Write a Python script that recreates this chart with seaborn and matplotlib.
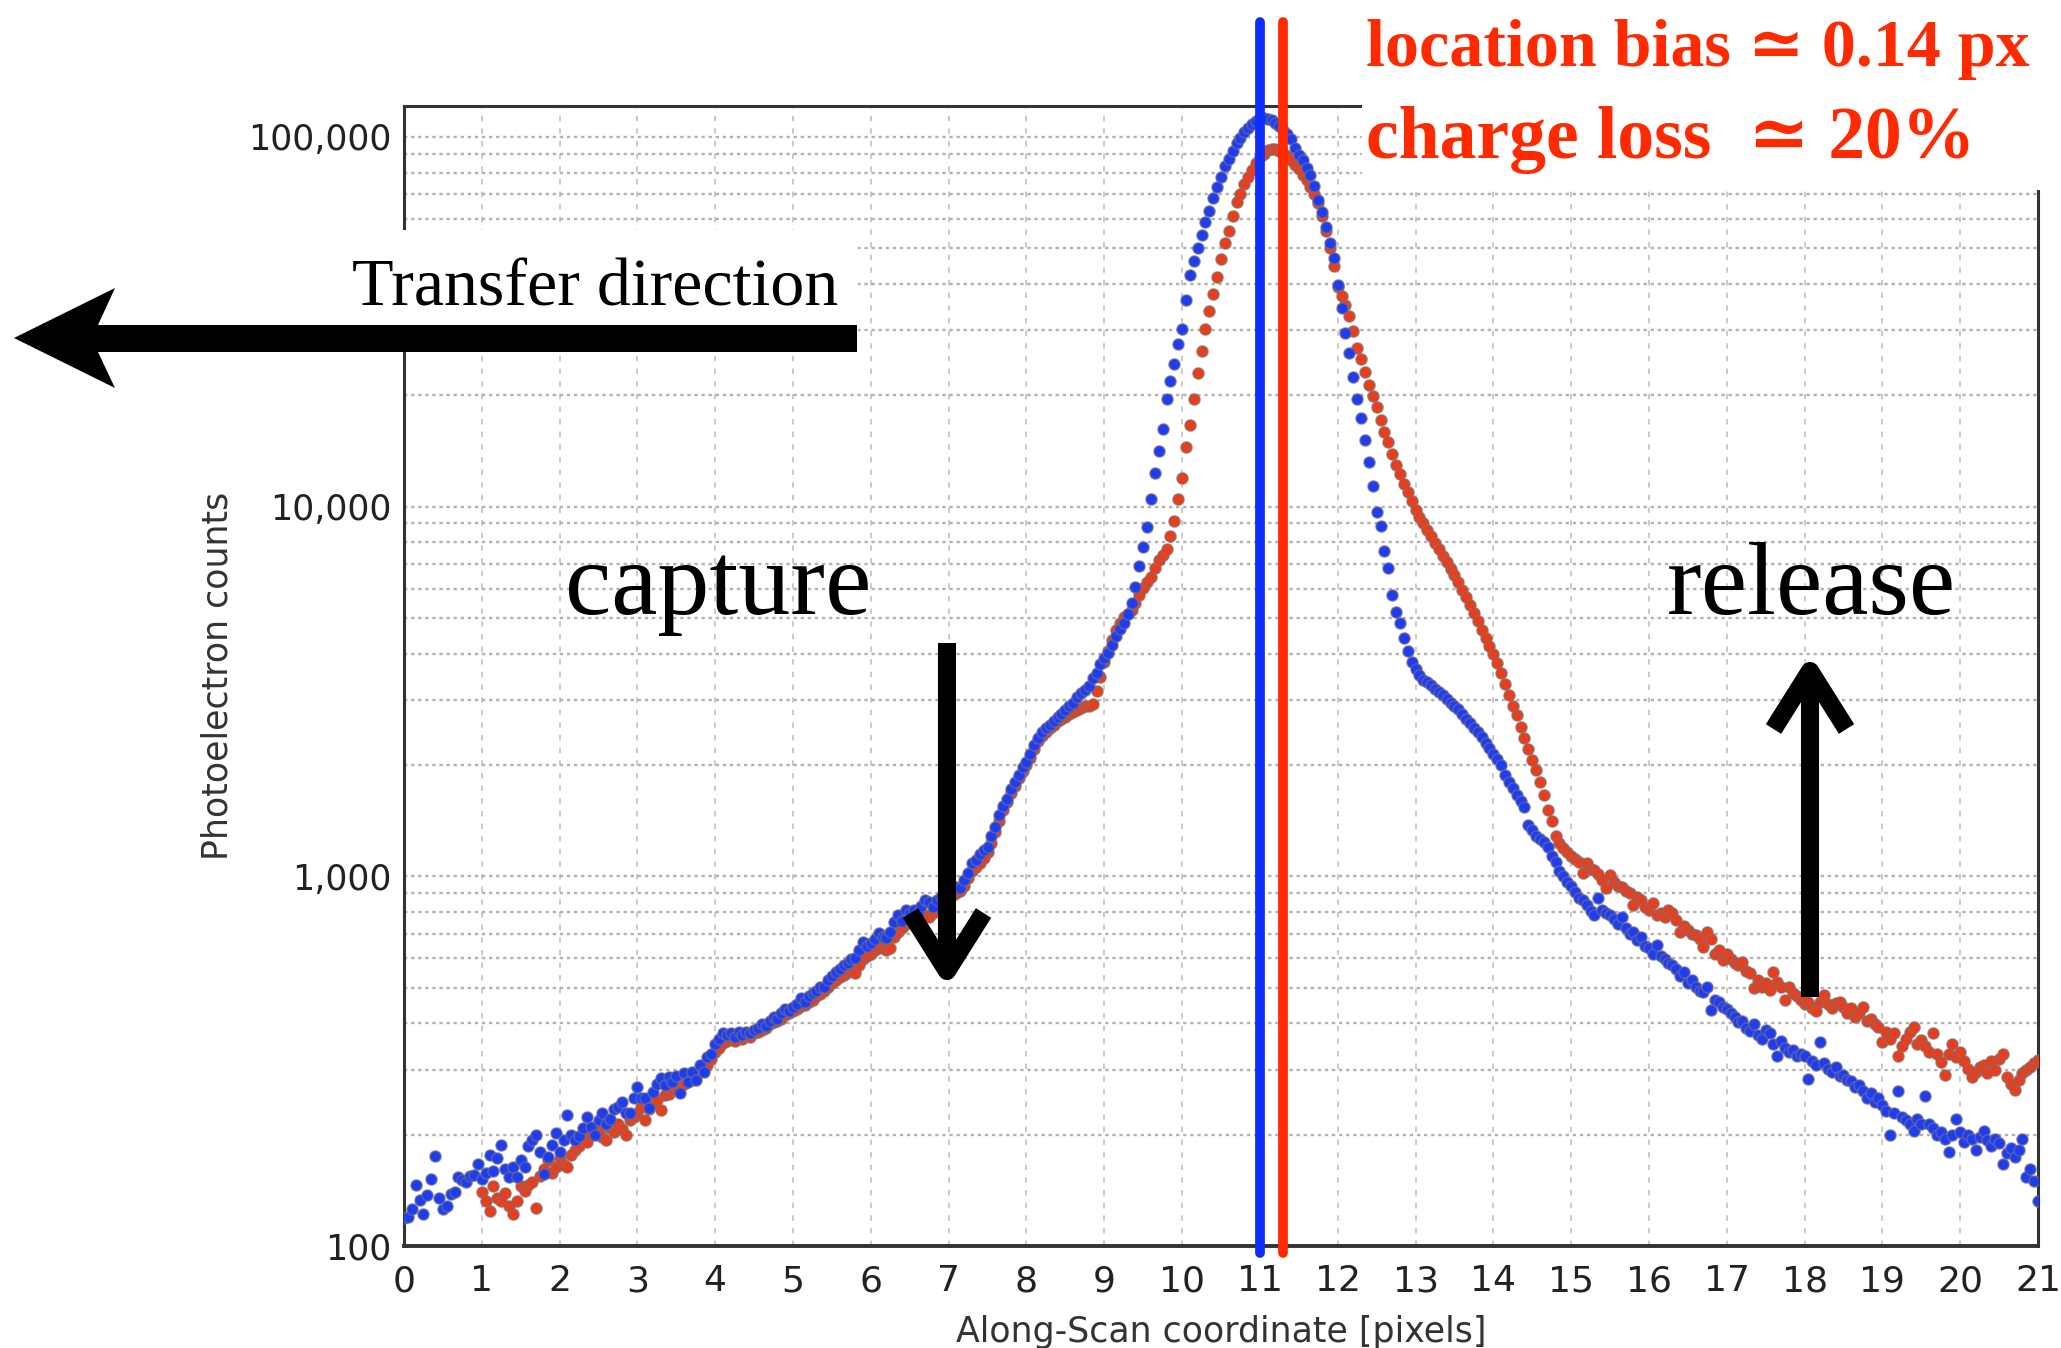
import numpy as np
import pandas as pd
import matplotlib
matplotlib.use("Agg")
import matplotlib.pyplot as plt
import seaborn as sns
from matplotlib.ticker import FixedLocator, FixedFormatter, LogLocator, NullFormatter
from matplotlib.patches import Rectangle, Polygon

# ---------------- data ----------------
STEP = 0.05          # sampling step along scan [pixels]
BLUE_X0 = 0.0        # first blue sample
RED_X0 = 1.0         # first red sample

blue_counts = [
    119, 120, 126, 146, 133, 122, 137, 152, 175, 135, 126, 128, 138, 140, 154, 151, 149, 155, 156, 167,
    152, 158, 176, 160, 173, 188, 162, 154, 164, 154, 171, 164, 186, 194, 200, 180, 157, 174, 188, 202,
    180, 193, 226, 200, 194, 198, 209, 224, 210, 200, 219, 229, 214, 221, 234, 238, 245, 229, 229, 251,
    270, 251, 251, 236, 261, 275, 284, 272, 287, 278, 288, 259, 293, 278, 295, 282, 309, 295, 324, 331,
    351, 363, 376, 372, 376, 367, 378, 372, 380, 376, 385, 389, 398, 394, 407, 417, 412, 427, 437, 432,
    444, 452, 468, 457, 473, 482, 490, 501, 502, 525, 537, 550, 562, 575, 582, 596, 600, 631, 665, 646,
    661, 676, 701, 684, 679, 708, 750, 785, 759, 809, 794, 813, 794, 832, 863, 851, 828, 861, 881, 902,
    912, 923, 933, 929, 977, 1023, 1084, 1109, 1148, 1175, 1202, 1288, 1361, 1462, 1549, 1622, 1718, 1799, 1884, 1972,
    2042, 2138, 2265, 2371, 2455, 2512, 2570, 2630, 2692, 2754, 2818, 2884, 2951, 3055, 3126, 3199, 3273, 3428, 3548, 3758,
    3890, 4027, 4217, 4467, 4677, 4842, 5129, 5495, 6067, 6918, 7762, 8810, 10470, 12300, 14130, 16220, 19500, 21880, 24270, 27540,
    30200, 36310, 42270, 46240, 50120, 54330, 58880, 63100, 68390, 73110, 77980, 83180, 87300, 91620, 96160, 99540, 103000, 105900, 108400, 110700,
    112200, 112500, 111900, 110900, 108900, 107200, 104200, 102100, 98400, 93300, 89500, 86500, 82400, 78900, 73500, 67300, 62700, 56900, 51500, 46990,
    39810, 34510, 29510, 26000, 22390, 19500, 17380, 15140, 13180, 11350, 9660, 8870, 7590, 6820, 5750, 5190, 4840, 4420, 4060, 3800,
    3630, 3510, 3400, 3350, 3300, 3220, 3150, 3090, 3020, 2950, 2884, 2830, 2754, 2670, 2590, 2512, 2455, 2380, 2290, 2230,
    2138, 2070, 1995, 1884, 1795, 1738, 1660, 1603, 1535, 1380, 1334, 1288, 1259, 1236, 1202, 1135, 1096, 1035, 1000, 966,
    944, 904, 871, 861, 838, 804, 785, 875, 813, 794, 785, 767, 745, 776, 724, 700, 708, 671, 684, 646,
    638, 617, 653, 607, 596, 582, 575, 561, 537, 550, 513, 525, 501, 490, 486, 501, 434, 462, 456, 442,
    437, 427, 417, 403, 407, 389, 381, 398, 372, 363, 385, 376, 351, 327, 359, 344, 335, 339, 327, 331,
    327, 283, 316, 309, 357, 313, 302, 295, 305, 288, 290, 282, 279, 269, 272, 263, 251, 260, 245, 251,
    240, 232, 200, 229, 262, 224, 219, 214, 205, 221, 214, 255, 214, 209, 200, 204, 195, 180, 200, 221,
    204, 191, 200, 195, 182, 197, 205, 193, 186, 195, 190, 167, 178, 184, 174, 182, 195, 154, 162, 150,
    132,
]

red_counts = [
    140, 132, 124, 145, 135, 132, 139, 128, 122, 132, 145, 141, 146, 149, 127, 155, 162, 171, 158, 164,
    173, 166, 164, 176, 182, 186, 198, 191, 200, 210, 204, 197, 194, 209, 204, 214, 207, 200, 219, 224,
    229, 237, 219, 234, 243, 248, 233, 256, 257, 266, 269, 278, 275, 285, 282, 292, 295, 302, 309, 320,
    335, 343, 355, 359, 363, 359, 367, 363, 372, 367, 376, 380, 385, 389, 398, 403, 407, 412, 422, 427,
    432, 437, 447, 449, 457, 462, 473, 479, 490, 501, 513, 525, 535, 541, 550, 556, 547, 575, 596, 610,
    617, 631, 638, 646, 631, 638, 684, 708, 724, 741, 750, 760, 767, 776, 785, 776, 794, 822, 841, 861,
    881, 891, 902, 912, 944, 989, 1035, 1059, 1084, 1122, 1161, 1230, 1318, 1413, 1514, 1585, 1679, 1758, 1841, 1928,
    1995, 2089, 2213, 2317, 2399, 2455, 2512, 2570, 2630, 2661, 2692, 2754, 2786, 2818, 2851, 2884, 2884, 2917, 3162, 3467,
    3802, 4074, 4365, 4624, 4842, 5012, 5129, 5248, 5495, 5781, 6026, 6237, 6457, 6839, 7161, 7379, 7674, 8318, 9120, 10470,
    11940, 14450, 16670, 19500, 22910, 26300, 30200, 33730, 37580, 41780, 46770, 51520, 55590, 61090, 66530, 70150, 74470, 77980, 81470, 85110,
    88100, 90160, 92040, 92680, 92470, 91620, 90570, 88720, 86500, 84140, 81660, 79070, 76210, 73280, 69980, 66070, 60950, 55590, 50120, 44670,
    39360, 37150, 35080, 32730, 29850, 26920, 25000, 23070, 21380, 19950, 18540, 17180, 15960, 14960, 13870, 12970, 12250, 11530, 10960, 10350,
    9772, 9376, 9016, 8650, 8318, 7980, 7674, 7362, 7079, 6792, 6531, 6237, 5957, 5689, 5433, 5152, 4898, 4645, 4416, 4188,
    3981, 3784, 3548, 3311, 3090, 2897, 2723, 2541, 2371, 2213, 2065, 1936, 1799, 1660, 1514, 1413, 1288, 1230, 1189, 1161,
    1135, 1117, 1096, 1019, 1084, 1047, 1040, 1012, 977, 927, 1007, 966, 944, 938, 912, 902, 836, 881, 863, 826,
    811, 845, 785, 794, 776, 811, 794, 762, 708, 733, 716, 700, 692, 676, 644, 708, 676, 618, 631, 593,
    618, 596, 581, 575, 587, 556, 546, 498, 525, 502, 513, 492, 552, 519, 501, 462, 502, 484, 473, 462,
    452, 457, 440, 432, 457, 478, 452, 439, 453, 457, 444, 427, 439, 417, 428, 444, 407, 411, 398, 391,
    357, 380, 363, 376, 326, 348, 363, 380, 391, 351, 361, 347, 335, 376, 331, 314, 290, 331, 352, 324,
    335, 316, 302, 286, 295, 305, 309, 294, 316, 299, 320, 330, 286, 275, 265, 282, 294, 299, 305, 313,
    318,
]

BLUE_CENTROID = 11.0
RED_CENTROID = 11.3

X_TICKS = list(range(0, 22))
Y_TICKS = [100, 1000, 10000, 100000]
Y_TICK_LABELS = ["100", "1,000", "10,000", "100,000"]

# ---------------- style ----------------
W, H = 2061, 1348
BLUE_PT = "#1f3df0"
RED_PT = "#ec3d1a"
BLUE_LINE = "#0d2cff"
RED_LINE = "#ff2a00"
TXT_RED = "#ff2a00"

sns.set_style("white")
plt.rcParams["font.family"] = ["DejaVu Sans"]
SERIF = ["Liberation Serif", "DejaVu Serif"]

fig = plt.figure(figsize=(W / 100, H / 100), dpi=100)
fig.patch.set_facecolor("white")


def fx(px):
    return px / W


def fy(py):
    return 1 - py / H


ax = fig.add_axes([fx(404), fy(1246), fx(2038) - fx(404), fy(106) - fy(1246)])

df_blue = pd.DataFrame({"x": np.round(BLUE_X0 + STEP * np.arange(len(blue_counts)), 3),
                        "y": blue_counts})
df_red = pd.DataFrame({"x": np.round(RED_X0 + STEP * np.arange(len(red_counts)), 3),
                       "y": red_counts})

sns.scatterplot(data=df_red, x="x", y="y", color=RED_PT, s=64,
                edgecolor=(0.5, 0.42, 0.42, 0.7), linewidth=1.1, ax=ax, zorder=3, legend=False)
sns.scatterplot(data=df_blue, x="x", y="y", color=BLUE_PT, s=64,
                edgecolor=(0.42, 0.42, 0.55, 0.7), linewidth=1.1, ax=ax, zorder=4, legend=False)

ax.set_yscale("log")
ax.set_xlim(0, 21)
ax.set_ylim(100, 121200)

ax.xaxis.set_major_locator(FixedLocator(X_TICKS))
ax.yaxis.set_major_locator(FixedLocator(Y_TICKS))
ax.yaxis.set_major_formatter(FixedFormatter(Y_TICK_LABELS))
ax.yaxis.set_minor_locator(LogLocator(base=10, subs=np.arange(2, 10)))
ax.yaxis.set_minor_formatter(NullFormatter())

ax.grid(True, axis="x", which="major", color="#c6c6c6", linestyle=(0, (3, 4)), linewidth=1.3)
ax.grid(True, axis="y", which="both", color="#b2b2b2", linestyle=(0, (1.4, 1.6)), linewidth=1.7)
ax.set_axisbelow(True)

ax.tick_params(axis="x", which="major", direction="out", length=5, width=1.5,
               pad=8, labelsize=26, colors="#333333", labelcolor="#222222")
ax.tick_params(axis="y", which="major", direction="out", length=6.5, width=1.5,
               pad=2.5, labelsize=25, colors="#333333", labelcolor="#222222")
ax.tick_params(axis="y", which="minor", direction="in", length=4, width=1.2, colors="#333333")

for side in ["left", "right", "top", "bottom"]:
    ax.spines[side].set_color("#333333")
    ax.spines[side].set_linewidth(2.2)
ax.spines["bottom"].set_linewidth(2.8)

ax.set_xlabel("Along-Scan coordinate [pixels]", fontsize=25, color="#333333", labelpad=12)
ax.set_ylabel("Photoelectron counts", fontsize=25, color="#333333", labelpad=10)

# centroid lines
ax.axvline(BLUE_CENTROID, ymin=-0.006, ymax=1.074, color=BLUE_LINE, lw=7, clip_on=False, zorder=6)
ax.axvline(RED_CENTROID, ymin=-0.006, ymax=1.074, color=RED_LINE, lw=7, clip_on=False, zorder=6)

# white boxes behind annotation texts
fig.add_artist(Rectangle((fx(1362), fy(190)), 1 - fx(1362), fy(0) - fy(190),
                         transform=fig.transFigure, facecolor="white", edgecolor="none", zorder=2))
fig.add_artist(Rectangle((0, fy(352)), fx(858), fy(230) - fy(352),
                         transform=fig.transFigure, facecolor="white", edgecolor="none", zorder=2))

# transfer-direction arrow
arrow_pts = [(14, 338), (115, 288), (98, 325), (857, 325), (857, 352), (98, 352), (115, 388)]
fig.add_artist(Polygon([(fx(a), fy(b)) for a, b in arrow_pts], closed=True,
                       transform=fig.transFigure, facecolor="black", edgecolor="none", zorder=3))

fig.text(fx(352), fy(305), "Transfer direction", fontsize=49, family=SERIF,
         ha="left", va="baseline", color="black", zorder=4)
fig.text(fx(1366), fy(66), "location bias \u2243 0.14 px", fontsize=49, family=SERIF,
         weight="bold", ha="left", va="baseline", color=TXT_RED, zorder=4)
fig.text(fx(1366), fy(158), "charge loss  \u2243 20%", fontsize=53, family=SERIF,
         weight="bold", ha="left", va="baseline", color=TXT_RED, zorder=4)

fig.text(fx(565), fy(614), "capture", fontsize=75, family=SERIF,
         ha="left", va="baseline", color="black", zorder=4)
fig.text(fx(1667), fy(614), "release", fontsize=75, family=SERIF,
         ha="left", va="baseline", color="black", zorder=4)

arrow_kw = dict(arrowstyle="->,head_length=41.8,head_width=26.3", lw=13, color="black",
                shrinkA=0, shrinkB=0, mutation_scale=1, joinstyle="round", capstyle="butt")
ax.annotate("", xy=(947, H - 988), xycoords="figure pixels",
            xytext=(947, H - 643), textcoords="figure pixels", arrowprops=arrow_kw, zorder=7)
ax.annotate("", xy=(1810, H - 654), xycoords="figure pixels",
            xytext=(1810, H - 997), textcoords="figure pixels", arrowprops=arrow_kw, zorder=7)

fig.savefig("out.png", dpi=100, facecolor="white")
